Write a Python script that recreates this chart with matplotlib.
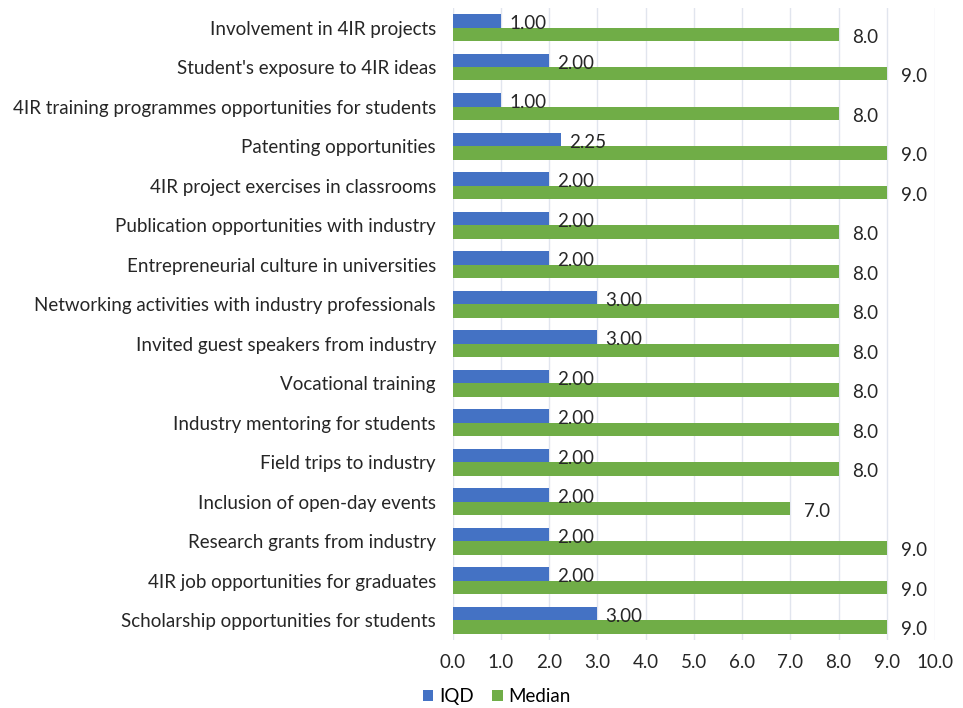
import numpy as np
import matplotlib.pyplot as plt

categories = [
    "Involvement in 4IR projects",
    "Student's exposure to 4IR ideas",
    "4IR training programmes opportunities for students",
    "Patenting opportunities",
    "4IR project exercises in classrooms",
    "Publication opportunities with industry",
    "Entrepreneurial culture in universities",
    "Networking activities with industry professionals",
    "Invited guest speakers from industry",
    "Vocational training",
    "Industry mentoring for students",
    "Field trips to industry",
    "Inclusion of open-day events",
    "Research grants from industry",
    "4IR job opportunities for graduates",
    "Scholarship opportunities for students",
]
iqd = [1.00, 2.00, 1.00, 2.25, 2.00, 2.00, 2.00, 3.00, 3.00, 2.00, 2.00, 2.00, 2.00, 2.00, 2.00, 3.00]
median = [8.0, 9.0, 8.0, 9.0, 9.0, 8.0, 8.0, 8.0, 8.0, 8.0, 8.0, 8.0, 7.0, 9.0, 9.0, 9.0]

plt.rcParams['font.family'] = ['Lato', 'DejaVu Sans']
fs = 13.5

fig = plt.figure(figsize=(9.63, 7.08), dpi=100)
ax = fig.add_axes([0.470, 0.096, 0.501, 0.893])

y = np.arange(len(categories))
h = 0.34
b1 = ax.barh(y - h / 2, iqd, height=h, color='#4472C4', label='IQD', zorder=3)
b2 = ax.barh(y + h / 2, median, height=h, color='#70AD47', label='Median', zorder=3)

# value labels
for v, yy in zip(iqd, y):
    ax.annotate(f"{v:.2f}", (v, yy - h / 2), xytext=(6, -2), textcoords='offset points',
                ha='left', va='center', fontsize=fs, color='#262626', zorder=4)
for v, yy in zip(median, y):
    ax.annotate(f"{v:.1f}", (v, yy + h / 2), xytext=(10, -2), textcoords='offset points',
                ha='left', va='center', fontsize=fs, color='#262626', zorder=4)

ax.set_yticks(y)
ax.set_yticklabels(categories, fontsize=fs, color='#262626')
ax.set_ylim(len(categories) - 0.5, -0.5)
ax.set_xlim(0, 10)
ax.set_xticks(np.arange(0, 11, 1))
ax.set_xticklabels([f"{t:.1f}" for t in range(11)], fontsize=fs, color='#262626')
ax.tick_params(length=0, pad=10)
ax.tick_params(axis='y', pad=12)
ax.xaxis.grid(True, color='#E1E5EE', linewidth=1, zorder=0)
for s in ax.spines.values():
    s.set_visible(False)

fig.legend(handles=[b1, b2], loc='center', bbox_to_anchor=(0.516, 0.016), ncol=2,
           frameon=False, fontsize=fs, handlelength=0.55, handleheight=0.55,
           handletextpad=0.3, columnspacing=1.0)

plt.savefig('out.png', dpi=100)
